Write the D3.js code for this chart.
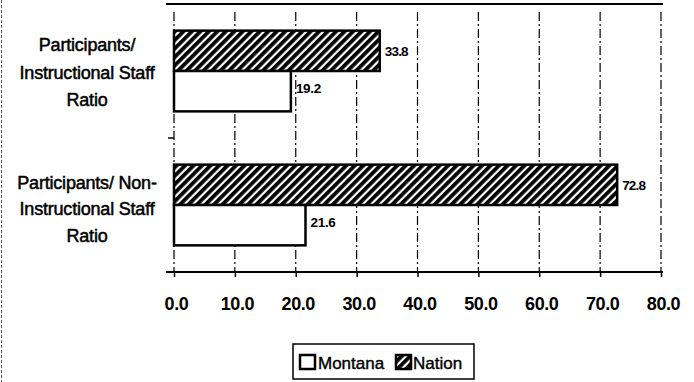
<!DOCTYPE html>
<html><head><meta charset="utf-8">
<script src="https://cdn.jsdelivr.net/npm/d3@7"></script>
<style>body{margin:0;background:#fff}svg{display:block}text{font-family:"Liberation Sans",Arial,sans-serif;fill:#000}</style>
</head><body>
<script>
const categories = [["Participants/","Instructional Staff","Ratio"],["Participants/ Non-","Instructional Staff","Ratio"]];
const catKeys = ["Instructional","NonInstructional"];
const seriesNames = ["Montana","Nation"];
const montana = [19.2, 21.6];
const nation = [33.8, 72.8];
const tickValues = [0,10,20,30,40,50,60,70,80];

(function(){
const W=694,H=382;
const svg=d3.select("body").append("svg").attr("width",W).attr("height",H);
const defs=svg.append("defs");
const pat=defs.append("pattern").attr("id","hatch").attr("patternUnits","userSpaceOnUse")
  .attr("width",6).attr("height",6).attr("patternTransform","rotate(45)");
pat.append("rect").attr("width",6).attr("height",6).attr("fill","#fff");
pat.append("rect").attr("x",0).attr("y",0).attr("width",3.8).attr("height",6).attr("fill","#000");

const pL=174,pR=661,pT=4,pB=272;
const x=d3.scaleLinear().domain([0,80]).range([pL,pR]);
const y=d3.scaleBand().domain(catKeys).range([pT,pB]).paddingInner(0).paddingOuter(0);
const inner=d3.scaleBand().domain(["Nation","Montana"]).range([0,y.bandwidth()]).paddingInner(0).paddingOuter(0.66);

svg.append("line").attr("x1",1.5).attr("x2",1.5).attr("y1",0).attr("y2",H).attr("stroke","#555").attr("stroke-dasharray","3,2").attr("stroke-width",1);

svg.append("g").selectAll("line").data(tickValues).join("line")
  .attr("x1",d=>x(d)).attr("x2",d=>x(d)).attr("y1",pT+8).attr("y2",pB)
  .attr("stroke","#000").attr("stroke-width",1.2).attr("stroke-dasharray","9,3,2,3");

svg.append("line").attr("x1",166).attr("x2",pR+2).attr("y1",pT).attr("y2",pT).attr("stroke","#000").attr("stroke-width",2);

svg.append("line").attr("x1",168).attr("x2",pL).attr("y1",y("NonInstructional")).attr("y2",y("NonInstructional")).attr("stroke","#000").attr("stroke-width",1.5);

const g=svg.append("g");
const offs=[[-20,8,35],[-16,10,37]];
catKeys.forEach((k,i)=>{
  const yN=y(k)+inner("Nation"), yM=y(k)+inner("Montana"), bh=inner.bandwidth();
  g.append("rect").attr("x",x(0)).attr("y",yN).attr("width",x(nation[i])-x(0)).attr("height",bh)
    .attr("fill","url(#hatch)").attr("stroke","#000").attr("stroke-width",2.5);
  g.append("rect").attr("x",x(0)).attr("y",yM).attr("width",x(montana[i])-x(0)).attr("height",bh)
    .attr("fill","#fff").attr("stroke","#000").attr("stroke-width",2.5);
  g.append("text").attr("x",x(nation[i])+5).attr("y",yN+bh/2+5).attr("font-size",13.5).attr("font-weight","bold").attr("letter-spacing",-0.8).text(nation[i].toFixed(1));
  g.append("text").attr("x",x(montana[i])+5).attr("y",yM+bh/2+2).attr("font-size",13.5).attr("font-weight","bold").attr("letter-spacing",-0.3).text(montana[i].toFixed(1));
  const cy=y(k)+y.bandwidth()/2;
  categories[i].forEach((ln,j)=>{
    svg.append("text").attr("x",87).attr("y",cy+offs[i][j]).attr("text-anchor","middle")
      .attr("font-size",18).attr("letter-spacing",-0.2).attr("stroke","#000").attr("stroke-width",0.5).text(ln);
  });
});

const ax=svg.append("g").attr("transform",`translate(0,${pB})`)
  .call(d3.axisBottom(x).tickValues(tickValues).tickFormat(d=>d.toFixed(1)).tickSize(5).tickPadding(20));
ax.select(".domain").attr("stroke-width",2).attr("d",`M166,0H${pR+2}`);
ax.selectAll(".tick line").attr("stroke-width",1.5);
ax.selectAll(".tick text").attr("font-size",18).attr("font-family","Liberation Sans, Arial, sans-serif").attr("font-weight","bold").attr("dx",2).attr("letter-spacing",-0.4);

const lg=svg.append("g");
lg.append("rect").attr("x",293).attr("y",344).attr("width",181).attr("height",35).attr("fill","#fff").attr("stroke","#000").attr("stroke-width",1.5);
lg.append("rect").attr("x",300).attr("y",355).attr("width",15).attr("height",14).attr("fill","#fff").attr("stroke","#000").attr("stroke-width",2.5);
lg.append("text").attr("x",318).attr("y",369).attr("font-size",17).attr("stroke","#000").attr("stroke-width",0.4).text(seriesNames[0]);
lg.append("rect").attr("x",396).attr("y",355).attr("width",15).attr("height",14).attr("fill","url(#hatch)").attr("stroke","#000").attr("stroke-width",2.5);
lg.append("text").attr("x",413).attr("y",369).attr("font-size",17).attr("stroke","#000").attr("stroke-width",0.4).text(seriesNames[1]);
})();
</script>
</body></html>
